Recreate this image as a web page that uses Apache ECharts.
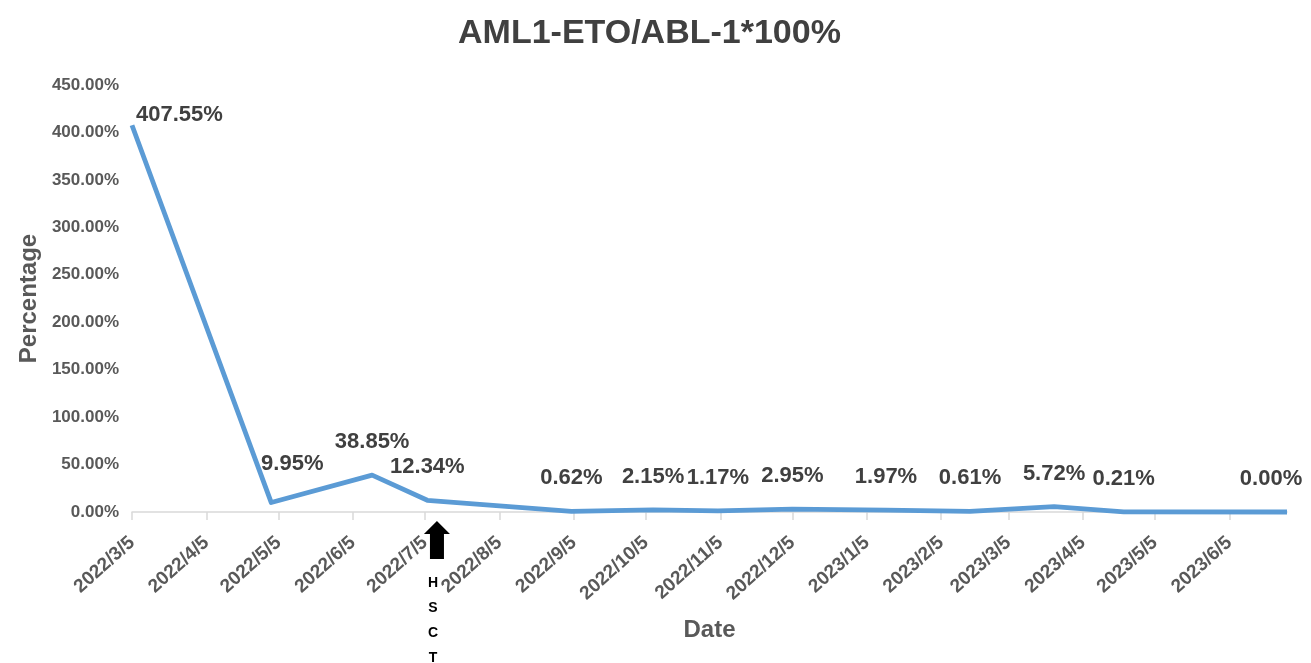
<!DOCTYPE html>
<html>
<head>
<meta charset="utf-8">
<script src="https://cdn.jsdelivr.net/npm/echarts@6/dist/echarts.min.js"></script>
<style>
html,body{margin:0;padding:0;background:#fff;}
#main{width:1311px;height:663px;}
</style>
</head>
<body>
<div id="main"></div>
<script>
// ---- data ----
const titleText = 'AML1-ETO/ABL-1*100%';
const sampleDates = ['2022/3/5','2022/5/2','2022/6/13','2022/7/6','2022/9/4','2022/10/8','2022/11/4','2022/12/5','2023/1/13','2023/2/17','2023/3/24','2023/4/22','2023/6/29'];
const percentValues = [407.55, 9.95, 38.85, 12.34, 0.62, 2.15, 1.17, 2.95, 1.97, 0.61, 5.72, 0.21, 0.00];
const tickDates = ['2022/3/5','2022/4/5','2022/5/5','2022/6/5','2022/7/5','2022/8/5','2022/9/5','2022/10/5','2022/11/5','2022/12/5','2023/1/5','2023/2/5','2023/3/5','2023/4/5','2023/5/5','2023/6/5'];
const yTicks = [0, 50, 100, 150, 200, 250, 300, 350, 400, 450];
const hsctDate = '2022/7/10';
const hsctText = 'HSCT';

function toTime(s){ const p = s.split('/').map(Number); return new Date(p[0], p[1]-1, p[2]).getTime(); }
function fmtDate(t){ const d = new Date(t); return d.getFullYear() + '/' + (d.getMonth()+1) + '/' + d.getDate(); }

// per-label style tweaks (index -> label shift in px)
const labelShift = {
  0: { dx: 0, dy: -10 },
  1: { dx: 21, dy: -6 },
  12: { dx: -16, dy: 0 }
};

const seriesData = sampleDates.map((s, i) => {
  const item = { value: [toTime(s), percentValues[i]] };
  if (i === 0) item.label = { position: 'right', distance: 4 };
  return item;
});

const FONT = '"Liberation Sans", Arial, sans-serif';
const chart = echarts.init(document.getElementById('main'));
const tickTimes = tickDates.map(toTime);
const option = {
  backgroundColor: '#ffffff',
  animation: false,
  title: {
    text: titleText,
    left: 453, top: 12,
    textStyle: { fontFamily: FONT, fontSize: 34, fontWeight: 'bold', color: '#404040' }
  },
  grid: { left: 132, right: 24, top: 85, bottom: 151, containLabel: false, outerBoundsMode: 'none' },
  xAxis: {
    type: 'value',
    min: tickTimes[0],
    max: toTime(sampleDates[sampleDates.length - 1]),
    scale: true,
    name: 'Date', nameLocation: 'middle', nameGap: 106,
    nameTextStyle: { fontFamily: FONT, fontSize: 24, fontWeight: 'bold', color: '#595959' },
    axisLine: { show: true, lineStyle: { color: '#d9d9d9', width: 1.5 } },
    axisTick: { show: true, length: 8, lineStyle: { color: '#d9d9d9', width: 1.5 }, customValues: tickTimes },
    axisLabel: {
      customValues: tickTimes,
      formatter: v => fmtDate(v),
      rotate: 42, margin: 28,
      fontFamily: FONT, fontSize: 19, fontWeight: 'bold', color: '#595959',
      showMinLabel: true, showMaxLabel: true, hideOverlap: false
    },
    splitLine: { show: false }
  },
  yAxis: {
    type: 'value', min: yTicks[0], max: yTicks[yTicks.length - 1], interval: 50,
    name: 'Percentage', nameLocation: 'middle', nameGap: 87, nameRotate: 90,
    nameTextStyle: { fontFamily: FONT, fontSize: 24, fontWeight: 'bold', color: '#595959' },
    axisLine: { show: false }, axisTick: { show: false },
    axisLabel: { formatter: v => v.toFixed(2) + '%', margin: 13, fontFamily: FONT, fontSize: 17, fontWeight: 'bold', color: '#595959' },
    splitLine: { show: false }
  },
  series: [{
    type: 'line',
    data: seriesData,
    showSymbol: true, symbol: 'circle', symbolSize: 0.1,
    lineStyle: { color: '#5b9bd5', width: 4.8, join: 'round' },
    itemStyle: { color: '#5b9bd5' },
    label: {
      show: true, position: 'top', distance: 22,
      formatter: p => p.value[1].toFixed(2) + '%',
      fontFamily: FONT, fontSize: 22, fontWeight: 'bold', color: '#404040'
    },
    labelLayout: params => {
      const s = labelShift[params.dataIndex];
      return s ? { dx: s.dx, dy: s.dy } : {};
    },
    clip: false
  }]
};
chart.setOption(option);

// HSCT annotation positioned via the axis scale
const p = chart.convertToPixel({ gridIndex: 0 }, [toTime(hsctDate), 0]);
const x = p[0], y = p[1];
chart.setOption({
  graphic: [
    {
      type: 'polygon',
      shape: { points: [[x, y + 9], [x + 13, y + 22], [x + 7, y + 22], [x + 7, y + 47], [x - 7, y + 47], [x - 7, y + 22], [x - 13, y + 22]] },
      style: { fill: '#000000' }
    },
    {
      type: 'text',
      x: x - 4, y: y + 59,
      style: {
        text: hsctText.split('').join('\n'),
        fill: '#000000', font: 'bold 14px ' + FONT,
        lineHeight: 25, align: 'center', verticalAlign: 'top'
      }
    }
  ]
});
</script>
</body>
</html>
